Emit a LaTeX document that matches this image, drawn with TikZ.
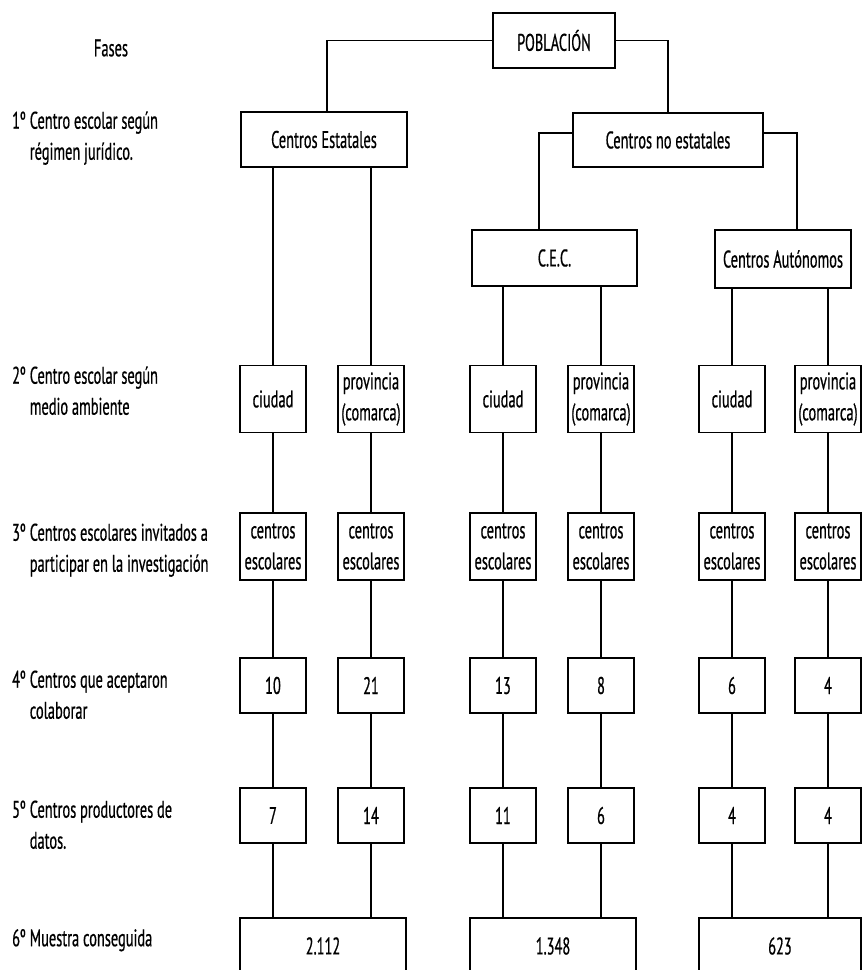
\documentclass[tikz,border=0pt]{standalone}
\usepackage{fontspec}
\setmainfont{PT Sans}[FakeStretch=0.6,FakeBold=0.6]
\begin{document}
\begin{tikzpicture}[x=1pt,y=-1pt,
  font=\fontsize{24}{31}\selectfont,
  box/.style={draw, line width=1.6pt, inner sep=0pt, align=center},
  sbox/.style={box, minimum width=66pt, minimum height=67pt},
  nbox/.style={box, minimum width=66pt, minimum height=55pt},
  conn/.style={line width=1.5pt},
  lab/.style={anchor=west, inner sep=0pt, align=left}]
\clip (0,0) rectangle (862,970);
\fill[white] (0,0) rectangle (862,970);

% phase labels
\node (fases) at (111,48) {Fases};
\newcommand{\phaselab}[2]{\begin{tabular}{@{}l@{\,}l@{}}#1&#2\end{tabular}}
\node[lab] (p1) at (12,138) {\phaselab{1º}{Centro escolar según\\ & régimen jurídico.}};
\node[lab] (p2) at (12,393) {\phaselab{2º}{Centro escolar según\\ & medio ambiente}};
\node[lab] (p3) at (12,550) {\phaselab{3º}{Centros escolares invitados a\\ & participar en la investigación}};
\node[lab] (p4) at (12,697) {\phaselab{4º}{Centros que aceptaron\\ & colaborar}};
\node[lab] (p5) at (12,827) {\phaselab{5º}{Centros productores de\\ & datos.}};
\node[lab] (p6) at (12,940) {\phaselab{6º}{Muestra conseguida}};

% top levels
\node[box, minimum width=122pt, minimum height=55pt] (pob) at (554,40.5) {POBLACIÓN};
\node[box, minimum width=166pt, minimum height=55pt] (est) at (324,139.5) {Centros Estatales};
\node[box, minimum width=190pt, minimum height=54pt] (ne) at (668,140) {Centros no estatales};
\node[box, minimum width=165pt, minimum height=56pt] (cec) at (554.5,258) {C.E.C.};
\node[box, minimum width=136pt, minimum height=58pt] (aut) at (783,259) {Centros Autónomos};

% level 2
\node[sbox] (a2) at (273,399) {ciudad};
\node[sbox] (b2) at (371,399) {provincia\\(comarca)};
\node[sbox] (c2) at (503,399) {ciudad};
\node[sbox] (d2) at (601,399) {provincia\\(comarca)};
\node[sbox] (e2) at (732,399) {ciudad};
\node[sbox] (f2) at (828,399) {provincia\\(comarca)};

% level 3
\node[sbox] (a3) at (273,546.5) {centros\\escolares};
\node[sbox] (b3) at (371,546.5) {centros\\escolares};
\node[sbox] (c3) at (503,546.5) {centros\\escolares};
\node[sbox] (d3) at (601,546.5) {centros\\escolares};
\node[sbox] (e3) at (732,546.5) {centros\\escolares};
\node[sbox] (f3) at (828,546.5) {centros\\escolares};

% level 4
\node[nbox] (a4) at (273,685.5) {10};
\node[nbox] (b4) at (371,685.5) {21};
\node[nbox] (c4) at (503,685.5) {13};
\node[nbox] (d4) at (601,685.5) {8};
\node[nbox] (e4) at (732,685.5) {6};
\node[nbox] (f4) at (828,685.5) {4};

% level 5
\node[nbox] (a5) at (273,815.5) {7};
\node[nbox] (b5) at (371,815.5) {14};
\node[nbox] (c5) at (503,815.5) {11};
\node[nbox] (d5) at (601,815.5) {6};
\node[nbox] (e5) at (732,815.5) {4};
\node[nbox] (f5) at (828,815.5) {4};

% level 6
\node[box, minimum width=166pt, minimum height=56pt] (t1) at (323,946) {2.112};
\node[box, minimum width=166pt, minimum height=56pt] (t2) at (553,946) {1.348};
\node[box, minimum width=162pt, minimum height=56pt] (t3) at (780,946) {623};

% connectors
\draw[conn] (pob.west) -| ([xshift=3pt]est.north);
\draw[conn] (pob.east) -| (ne.north);
\draw[conn] ([yshift=7pt]ne.west) -| ([xshift=-15.5pt]cec.north);
\draw[conn] ([yshift=7pt]ne.east) -| ([xshift=14pt]aut.north);

\foreach \c in {a,b} \draw[conn] (\c2.north |- est.south) -- (\c2.north);
\foreach \c in {c,d} \draw[conn] (\c2.north |- cec.south) -- (\c2.north);
\foreach \c in {e,f} \draw[conn] (\c2.north |- aut.south) -- (\c2.north);

\foreach \c in {a,b,c,d,e,f} {
  \draw[conn] (\c2.south) -- (\c3.north);
  \draw[conn] (\c3.south) -- (\c4.north);
  \draw[conn] (\c4.south) -- (\c5.north);
}
\foreach \c in {a,b} \draw[conn] (\c5.south) -- (\c5.south |- t1.north);
\foreach \c in {c,d} \draw[conn] (\c5.south) -- (\c5.south |- t2.north);
\foreach \c in {e,f} \draw[conn] (\c5.south) -- (\c5.south |- t3.north);
\end{tikzpicture}
\end{document}
